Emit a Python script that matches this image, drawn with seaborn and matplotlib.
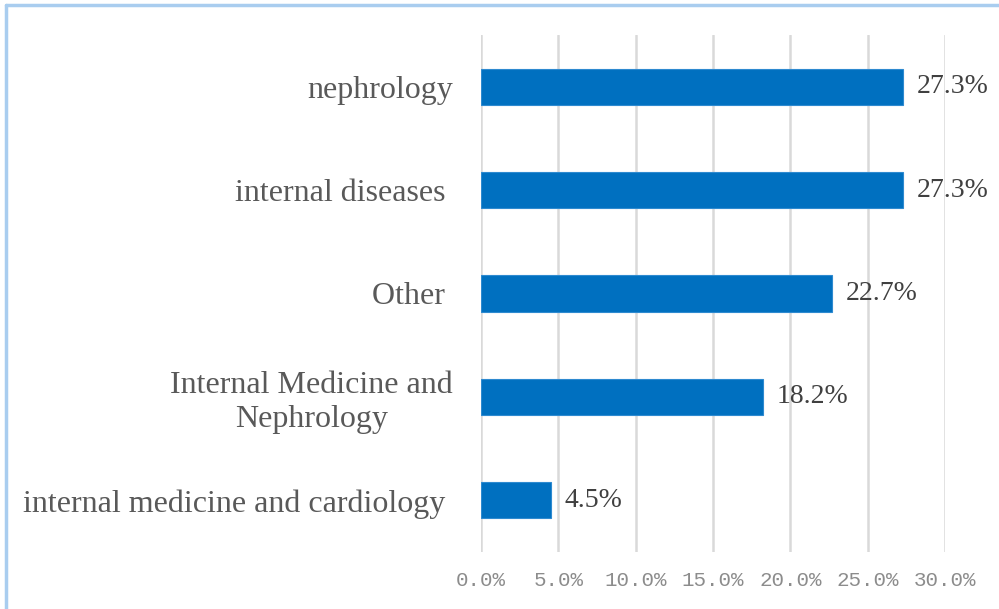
import matplotlib
matplotlib.use("Agg")
import matplotlib.pyplot as plt
from matplotlib.lines import Line2D
import seaborn as sns
import pandas as pd

# data
categories = ["nephrology", "internal diseases ", "Other ",
              "Internal Medicine and\nNephrology",
              "internal medicine and cardiology "]
values = [27.3, 27.3, 22.7, 18.2, 4.5]
ticks = [0, 5, 10, 15, 20, 25, 30]

df = pd.DataFrame({"cat": categories, "val": values})

BAR = "#0070C0"
GRID = "#D9D9D9"
TXT = "#595959"

sns.set_style("white")
plt.rcParams['font.family'] = ['Liberation Serif', 'DejaVu Serif']

fig = plt.figure(figsize=(9.99, 6.09), dpi=100, facecolor="white")
ax = fig.add_axes([0.4815, 0.0936, 0.4645, 0.849])

sns.barplot(data=df, y="cat", x="val", orient="h", color=BAR,
            width=0.35, saturation=1, edgecolor="#2E8AD0", linewidth=0.8,
            ax=ax, zorder=3)

ax.set_xlim(0, 30)
ax.set_ylim(4.5, -0.5)
ax.set_xticks(ticks)
ax.set_xticklabels([f"{t:.1f}%" for t in ticks], family="Liberation Mono",
                   fontsize=15, color="#8C8C8C")
ax.tick_params(axis="x", length=0, pad=14)
ax.tick_params(axis="y", length=0, pad=20)
for lab in ax.get_yticklabels():
    lab.set_fontsize(23)
    lab.set_color(TXT)
    lab.set_multialignment("center")
ax.set_xlabel("")
ax.set_ylabel("")
ax.grid(axis="x", color=GRID, linewidth=1.8, zorder=0)
ax.set_axisbelow(True)
for s in ax.spines.values():
    s.set_visible(False)

for i, v in enumerate(values):
    ax.text(v + 0.9, i, f"{v:.1f}%", va="center", ha="left",
            fontsize=20, color="#404040")

# figure border (top and left visible)
fig.add_artist(Line2D([0.006, 1], [0.9918, 0.9918], color="#A9CDEF", lw=2.5,
                      transform=fig.transFigure))
fig.add_artist(Line2D([0.006, 0.006], [0, 0.9918], color="#A9CDEF", lw=2.5,
                      transform=fig.transFigure))

fig.savefig("out.png", dpi=100, facecolor="white")
